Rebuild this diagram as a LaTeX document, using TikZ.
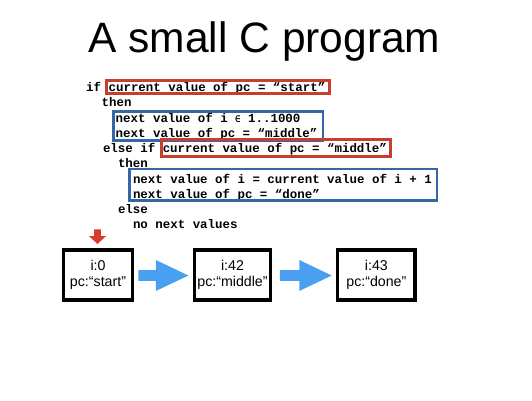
\documentclass[tikz,border=0pt]{standalone}
\usepackage{fontspec}
\setmainfont{Liberation Sans}
\newfontfamily\codefont{Liberation Mono}
\newfontfamily\codesym{DejaVu Sans Mono}
\usetikzlibrary{calc}

\definecolor{condred}{RGB}{199,61,46}
\definecolor{stepblue}{RGB}{52,103,164}
\definecolor{arrowblue}{RGB}{74,160,240}
\definecolor{markred}{RGB}{214,62,42}

% fat block arrow from tail point #1 to tip point #2
\newcommand{\blockarrow}[2]{%
  \fill[arrowblue] ($(#1)+(0,-5.3)$) -- ($(#2)+(-32.5,-5.3)$) -- ($(#2)+(-32.5,-15.5)$)
    -- (#2) -- ($(#2)+(-32.5,15.5)$) -- ($(#2)+(-32.5,5.3)$) -- ($(#1)+(0,5.3)$) -- cycle;}

\begin{document}
\begin{tikzpicture}[x=1pt,y=-1pt,
  codeline/.style={anchor=west, inner sep=0pt,
    font=\codefont\bfseries\fontsize{12.45}{15.3}\selectfont,
    text height=8pt, text depth=2.5pt},
  condbox/.style={draw=condred, line width=2.6pt, inner sep=0pt},
  stepbox/.style={draw=stepblue, line width=2.6pt, inner sep=0pt},
  statebox/.style={draw=black, line width=3.2pt, inner sep=0pt, align=center,
    font=\fontsize{14.2}{16}\selectfont, minimum height=50.1pt}
]
\useasboundingbox (0,0) rectangle (532,400);

% title
\node[anchor=base, inner sep=0pt, font=\fontsize{42.5}{46}\selectfont] (title) at (264.5,52) {A small C program};

% program text
\node[codeline] (l0) at (86,88.6)    {if current value of pc = “start”};
\node[codeline] (l1) at (101.5,103.9) {then};
\node[codeline] (l2) at (115.5,119.9) {next value of i {\codesym\bfseries\fontsize{9}{10}\selectfont ∈} 1..1000};
\node[codeline] (l3) at (115.5,134.5) {next value of pc = “middle”};
\node[codeline] (l4) at (102.8,149.6) {else if current value of pc = “middle”};
\node[codeline] (l5) at (117.8,164.9) {then};
\node[codeline] (l6) at (132.8,180.9) {next value of i = current value of i + 1};
\node[codeline] (l7) at (132.8,195.6) {next value of pc = “done”};
\node[codeline] (l8) at (117.8,210.7) {else};
\node[codeline] (l9) at (132.8,226)   {no next values};

% conditions and their next-state steps
\node[condbox, minimum width=223.1pt, minimum height=13.1pt] (cond1) at (217.85,87.15) {};
\node[stepbox, minimum width=209.4pt, minimum height=29.1pt] (next1) at (218.3,125.85) {};
\node[condbox, minimum width=229.1pt, minimum height=16.6pt] (cond2) at (275.85,147.9) {};
\node[stepbox, minimum width=307.4pt, minimum height=31.4pt] (next2) at (283.3,184.7) {};

% states
\node[statebox, minimum width=69.3pt] (s0) at (98,275)    {i:0\\pc:“start”};
\node[statebox, minimum width=76.3pt] (s1) at (232.5,275) {i:42\\pc:“middle”};
\node[statebox, minimum width=77.4pt] (s2) at (376.35,275) {i:43\\pc:“done”};

% initial-state marker
\coordinate (init) at ($(s0.north)+(-0.5,-4.3)$);
\fill[markred] ($(init)+(-3.3,-14.7)$) -- ($(init)+(3.3,-14.7)$) -- ($(init)+(3.3,-8)$)
  -- ($(init)+(8.5,-8)$) -- (init) -- ($(init)+(-8.5,-8)$) -- ($(init)+(-3.3,-8)$) -- cycle;

% transitions
\coordinate (t0) at ($(s0.east)+(4,0.5)$);
\coordinate (h0) at ($(s1.west)+(-4.4,0.5)$);
\coordinate (t1) at ($(s1.east)+(7.7,0.5)$);
\coordinate (h1) at ($(s2.west)+(-4.3,0.5)$);
\blockarrow{t0}{h0}
\blockarrow{t1}{h1}
\end{tikzpicture}
\end{document}
